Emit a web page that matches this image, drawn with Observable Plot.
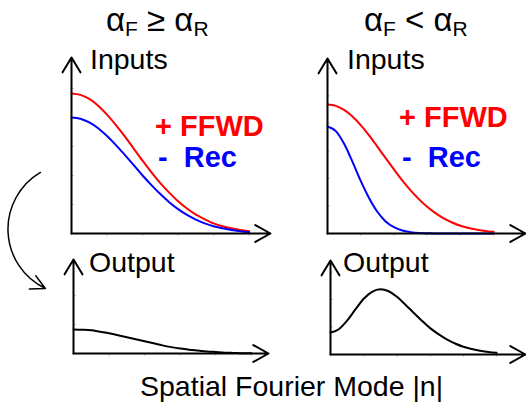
<!DOCTYPE html>
<html><head><meta charset="utf-8">
<script src="https://cdn.jsdelivr.net/npm/d3@7"></script>
<script src="https://cdn.jsdelivr.net/npm/@observablehq/plot@0.6"></script>
<style>
html,body{margin:0;padding:0;background:#fff;}
#chart{position:relative;width:526px;height:405px;overflow:hidden;font-family:"Liberation Sans",Arial,Helvetica,sans-serif;color:#000;}
#chart svg{position:absolute;left:0;top:0;}
.lbl{position:absolute;white-space:pre;line-height:1;}
.lbl sub{font-size:21px;vertical-align:baseline;position:relative;top:5px;}
</style></head><body><div id="chart"></div>
<script>
// Spatial Fourier mode |n| (sample positions along each horizontal axis)
const modes = [0,0.25,0.5,0.75,1,1.25,1.5,1.75,2,2.25,2.5,2.75,3,3.25,3.5,3.75,4,4.25,4.5,4.75,5];

// Case αF ≥ αR (left column)
const ffwdLeft   = [4.83,4.78,4.64,4.41,4.10,3.74,3.35,2.93,2.51,2.11,1.74,1.41,1.11,0.86,0.65,0.49,0.35,0.25,0.18,0.12,0.08];
const recLeft    = [4.00,3.96,3.83,3.63,3.36,3.05,2.71,2.36,2.00,1.67,1.36,1.08,0.84,0.64,0.48,0.35,0.25,0.18,0.12,0.08,0.05];
const outputLeft = [0.83,0.82,0.80,0.75,0.70,0.63,0.56,0.49,0.42,0.35,0.28,0.22,0.17,0.13,0.10,0.07,0.05,0.03,0.02,0.01,0.01];

// Case αF < αR (right column)
const ffwdRight   = [4.69,4.64,4.49,4.25,3.94,3.57,3.16,2.74,2.33,1.93,1.57,1.25,0.97,0.74,0.55,0.40,0.28,0.20,0.14,0.09,0.06];
const recRight    = [3.89,3.72,3.26,2.61,1.91,1.29,0.79,0.44,0.23,0.11,0.05,0.02,0.01,0,0,0,0,0,0,0,0];
const outputRight = [0.80,0.92,1.23,1.64,2.03,2.28,2.37,2.30,2.10,1.82,1.52,1.23,0.96,0.74,0.55,0.40,0.28,0.20,0.14,0.09,0.06];

// Faint tick positions
const xTicks = [1,2,3,4,5];
const yTicksTop = [1,2,3,4,5,6];
const yTicksBottom = [1,2,3];

// Text
const titles = [["α","F"," ≥ ","α","R"],["α","F"," < ","α","R"]];
const inputsLabel = "Inputs";
const outputLabel = "Output";
const ffwdLabel = "+ FFWD";
const recLabel = "-  Rec";
const xAxisLabel = "Spatial Fourier Mode |n|";

// Curved arrow from the inputs panel to the output panel (bottom-left panel units)
const flowArrow = [{x1: -0.93, y1: 6.24, x2: -0.79, y2: 2.24}];

const W = 526, H = 405;
const RED = "#ff0000", BLUE = "#0000ff";

function panel({box, xMax, yMax, yTicks, series, extra = []}) {
  return Plot.plot({
    width: W, height: H,
    marginLeft: box.left, marginRight: W - box.right,
    marginTop: box.top, marginBottom: H - box.bottom,
    x: {domain: [0, xMax]},
    y: {domain: [0, yMax]},
    style: {background: "transparent", overflow: "visible"},
    marks: [
      Plot.axisX(xTicks, {tickSize: 3, tickFormat: () => "", stroke: "#c8c8c8", label: null}),
      Plot.axisY(yTicks.filter(t => t < yMax - 0.3), {tickSize: -3, tickFormat: () => "", stroke: "#c8c8c8", label: null}),
      ...series.map(s => Plot.line(s.values, {x: (d, i) => modes[i], y: d => d, stroke: s.color, strokeWidth: 2, curve: "monotone-x"})),
      Plot.arrow([0], {x1: 0, y1: 0, x2: xMax, y2: 0, stroke: "#000", strokeWidth: 2, headLength: 13, headAngle: 58}),
      Plot.arrow([0], {x1: 0, y1: 0, x2: 0, y2: yMax, stroke: "#000", strokeWidth: 2, headLength: 13, headAngle: 62}),
      ...extra
    ]
  });
}

const chart = document.getElementById("chart");

chart.append(panel({
  box: {left: 71, right: 270, top: 57, bottom: 233}, xMax: 5.6, yMax: 6.07, yTicks: yTicksTop,
  series: [{values: ffwdLeft, color: RED}, {values: recLeft, color: BLUE}]
}));
chart.append(panel({
  box: {left: 327, right: 525, top: 58, bottom: 233}, xMax: 5.96, yMax: 6.36, yTicks: yTicksTop,
  series: [{values: ffwdRight, color: RED}, {values: recRight, color: BLUE}]
}));
chart.append(panel({
  box: {left: 73, right: 268, top: 259, bottom: 353}, xMax: 5.48, yMax: 3.24, yTicks: yTicksBottom,
  series: [{values: outputLeft, color: "#000"}],
  extra: [Plot.arrow(flowArrow, {x1: "x1", y1: "y1", x2: "x2", y2: "y2", bend: -62, stroke: "#000", strokeWidth: 1.5, headLength: 16, headAngle: 55})]
}));
chart.append(panel({
  box: {left: 330, right: 525, top: 260, bottom: 354}, xMax: 5.87, yMax: 3.42, yTicks: yTicksBottom,
  series: [{values: outputRight, color: "#000"}]
}));

function label(html, x, baseline, size, extra = {}) {
  const d = document.createElement("div");
  d.className = "lbl";
  d.innerHTML = html;
  d.style.left = x + "px";
  d.style.top = (baseline - 0.8465 * size) + "px";
  d.style.fontSize = size + "px";
  Object.assign(d.style, extra);
  chart.append(d);
}
const titleHTML = t => `${t[0]}<sub>${t[1]}</sub>${t[2]}${t[3]}<sub>${t[4]}</sub>`;
label(titleHTML(titles[0]), 106, 31, 33);
label(titleHTML(titles[1]), 364, 31, 33);
label(inputsLabel, 90, 69, 28.5);
label(inputsLabel, 347, 69, 28.5);
label(ffwdLabel, 155, 137, 29, {fontWeight: "bold", color: RED});
label(recLabel, 158, 168, 29, {fontWeight: "bold", color: BLUE});
label(ffwdLabel, 399, 128, 29, {fontWeight: "bold", color: RED});
label(recLabel, 402, 168, 29, {fontWeight: "bold", color: BLUE});
label(outputLabel, 89, 272, 28.5);
label(outputLabel, 343, 272, 28.5);
label(xAxisLabel, 140, 396, 28.5);
</script></body></html>
